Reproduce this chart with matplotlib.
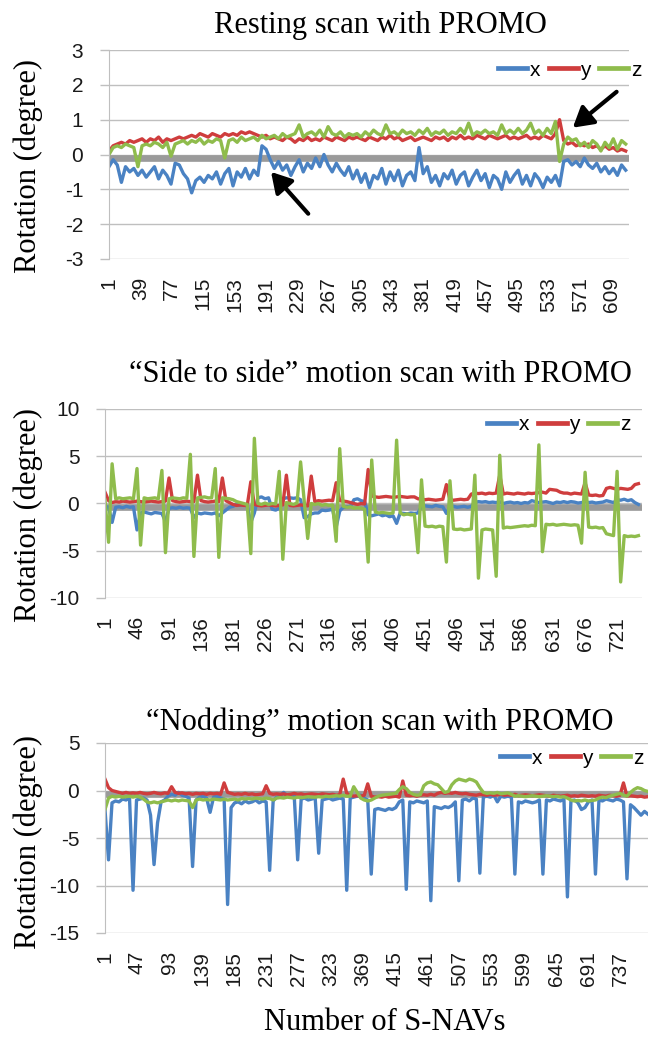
import numpy as np
import matplotlib
matplotlib.use("Agg")
import matplotlib.pyplot as plt
import matplotlib.transforms as mtransforms

plt.rcParams["font.family"] = "Liberation Sans"
plt.rcParams["axes.unicode_minus"] = False

W, H = 650, 1040
STEP = 5  # one value read every 5 S-NAVs
NAMES = ["x", "y", "z"]
COLORS = ["#4a82c3", "#cf3d3d", "#8fbc4c"]
GRID = "#bfbfbf"
ZERO = "#9a9a9a"

# --- resting scan ---
X1 = [
    -0.35, -0.15, -0.3, -0.8, -0.35, -0.5, -0.4, -0.6, -0.45, -0.65,
    -0.5, -0.35, -0.7, -0.45, -0.6, -0.85, -0.25, -0.3, -0.55, -0.7,
    -1.1, -0.75, -0.65, -0.8, -0.6, -0.7, -0.5, -0.85, -0.55, -0.4,
    -0.9, -0.5, -0.65, -0.4, -0.7, -0.45, -0.6, 0.25, 0.15, -0.15,
    -0.4, -0.2, -0.45, -0.3, -0.6, -0.35, -0.15, -0.5, -0.25, -0.4,
    -0.1, -0.35, 0.0, -0.3, -0.5, -0.25, -0.45, -0.6, -0.35, -0.7,
    -0.45, -0.8, -0.55, -0.95, -0.6, -0.7, -0.4, -0.85, -0.5, -0.75,
    -0.45, -0.9, -0.6, -0.5, -0.75, 0.2, -0.55, -0.35, -0.8, -0.6,
    -0.9, -0.55, -0.7, -0.45, -0.85, -0.6, -0.5, -0.9, -0.65, -0.45,
    -0.75, -0.55, -0.95, -0.6, -0.7, -1.0, -0.5, -0.8, -0.6, -0.45,
    -0.85, -0.6, -0.9, -0.55, -0.7, -0.95, -0.65, -0.8, -0.6, -0.9,
    -0.2, -0.15, -0.3, -0.2, -0.35, -0.1, -0.3, -0.4, -0.25, -0.5,
    -0.35, -0.55, -0.4, -0.6, -0.3, -0.45,
]
Y1 = [
    0.1, 0.25, 0.3, 0.35, 0.3, 0.4, 0.35, 0.4, 0.45, 0.35,
    0.45, 0.4, 0.5, 0.35, 0.45, 0.4, 0.45, 0.5, 0.45, 0.5,
    0.55, 0.5, 0.6, 0.55, 0.5, 0.6, 0.55, 0.5, 0.6, 0.55,
    0.6, 0.55, 0.65, 0.6, 0.65, 0.6, 0.55, 0.5, 0.55, 0.45,
    0.5, 0.45, 0.4, 0.5, 0.45, 0.35, 0.45, 0.4, 0.5, 0.4,
    0.45, 0.4, 0.5, 0.45, 0.4, 0.5, 0.45, 0.4, 0.5, 0.45,
    0.5, 0.45, 0.4, 0.5, 0.45, 0.4, 0.5, 0.45, 0.55, 0.45,
    0.5, 0.4, 0.45, 0.5, 0.4, 0.45, 0.5, 0.45, 0.4, 0.5,
    0.45, 0.5, 0.4, 0.5, 0.45, 0.55, 0.45, 0.5, 0.45, 0.55,
    0.5, 0.45, 0.55, 0.5, 0.45, 0.5, 0.55, 0.45, 0.5, 0.45,
    0.5, 0.55, 0.45, 0.5, 0.45, 0.55, 0.5, 0.45, 0.6, 1.0,
    0.4, 0.3, 0.35, 0.25, 0.3, 0.25, 0.3, 0.2, 0.25, 0.15,
    0.25, 0.15, 0.2, 0.1, 0.15, 0.1,
]
Z1 = [
    0.0, 0.2, 0.25, 0.2, 0.3, 0.25, 0.2, -0.35, 0.25, 0.3,
    0.25, 0.35, 0.3, 0.2, 0.35, -0.05, 0.3, 0.35, 0.4, 0.3,
    0.4, 0.35, 0.45, 0.3, 0.4, 0.35, 0.45, 0.4, -0.1, 0.4,
    0.45, 0.35, 0.5, 0.4, 0.45, 0.5, 0.4, 0.55, 0.45, 0.5,
    0.55, 0.45, 0.6, 0.5, 0.55, 0.6, 0.85, 0.5, 0.6, 0.65,
    0.55, 0.7, 0.5, 0.8, 0.6, 0.55, 0.65, 0.5, 0.6, 0.55,
    0.6, 0.5, 0.65, 0.55, 0.7, 0.6, 0.55, 0.85, 0.6, 0.65,
    0.55, 0.7, 0.6, 0.65, 0.55, 0.7, 0.6, 0.75, 0.55, 0.65,
    0.6, 0.7, 0.55, 0.65, 0.6, 0.75, 0.6, 0.9, 0.55, 0.65,
    0.6, 0.7, 0.6, 0.65, 0.55, 0.85, 0.6, 0.7, 0.6, 0.75,
    0.6, 0.7, 0.9, 0.6, 0.7, 0.55, 0.75, 0.6, 0.95, -0.2,
    0.3, 0.5, 0.4, 0.45, 0.25, 0.35, 0.2, 0.4, 0.3, 0.1,
    0.35, 0.2, 0.45, 0.15, 0.4, 0.3,
]

# --- side to side ---
X2 = [
    -0.3, -0.4, -2.0, -0.4, -0.35, -0.45, -0.3, -0.4, -0.35, -2.8,
    -1.0, -0.9, -1.0, -1.1, -0.95, -1.0, -1.05, -1.9, -0.5, -0.45,
    -0.5, -0.4, -0.5, -0.45, -0.5, -1.5, -1.0, -1.1, -1.0, -1.05,
    -1.1, -1.0, -1.3, -1.0, -0.7, -0.4, -0.3, -0.1, -0.2, -0.1,
    -0.3, -2.0, -1.0, 0.6, 0.7, 0.5, 0.6, -0.6, -0.7, -0.5,
    0.5, 0.6, 0.6, 0.55, 0.6, 0.4, -1.5, -1.4, -1.1, -1.0,
    -1.0, -0.7, -0.75, -0.7, -0.6, -2.5, -0.8, -0.4, -0.35, -0.3,
    0.4, 0.5, 0.3, 0.2, -1.2, -1.3, -1.2, -1.1, -1.3, -1.2,
    -1.4, -1.3, -2.1, -1.0, -1.05, -1.1, -1.0, -1.05, -1.0, -0.3,
    -0.25, -0.3, -0.35, -0.2, -0.3, -0.35, -1.05, -0.35, -0.3, -0.4,
    -0.35, -0.3, -0.4, -0.3, 0.1, 0.2, 0.15, 0.2, 0.1, 0.15,
    0.1, 0.2, 0.0, 0.1, 0.15, 0.05, 0.1, 0.0, 0.1, 0.05,
    0.3, 0.2, 0.1, 0.15, 0.2, 0.1, 0.0, 0.15, 0.1, 0.2,
    0.1, 0.2, 0.15, 0.05, 0.1, 0.2, 0.1, 0.15, 0.05, 0.1,
    0.15, 0.3, 0.2, 0.1, 0.4, 0.35, 0.45, 0.3, 0.4, 0.1,
    -0.1,
]
Y2 = [
    1.2, 0.3, 0.1, 0.2, 0.15, 0.25, 0.2, 0.15, 0.2, 0.25,
    0.2, 0.15, 0.2, 0.25, 0.2, 0.15, 0.2, 0.25, 2.7, 0.3,
    0.2, 0.15, 0.2, 0.25, 0.2, 0.2, 3.0, 0.3, 0.2, 0.15,
    0.2, 0.25, 0.2, 2.7, 0.3, 0.1, -0.1, -0.2, -0.15, -0.2,
    -0.2, 2.3, -0.1, -0.2, -0.25, -0.2, -0.15, -0.2, -0.25, -0.2,
    -0.15, 3.0, -0.2, -0.25, -0.2, -0.15, -0.2, -0.25, 2.9, 0.2,
    0.3, 0.25, 0.3, 0.35, 0.3, 2.2, 0.3, 0.25, 0.2, 0.1,
    0.0, -0.1, 0.0, -0.05, 3.6, 0.8, 0.7, 0.65, 0.7, 0.75,
    0.7, 0.65, 0.7, 0.75, 0.7, 0.65, 0.7, 0.7, 0.5, 0.45,
    0.4, 0.45, 0.4, 0.35, 0.4, 0.45, 2.0, 0.4, 0.35, 0.4,
    0.45, 0.4, 0.45, 1.0, 1.1, 1.05, 1.1, 1.0, 1.1, 1.05,
    1.1, 3.0, 1.0, 1.1, 1.05, 1.0, 1.1, 1.05, 1.0, 1.1,
    1.05, 1.1, 1.15, 1.2, 1.1, 1.5, 1.45, 1.4, 1.2, 1.1,
    1.1, 1.0, 1.1, 1.05, 1.0, 2.2, 0.9, 0.85, 0.9, 0.8,
    0.85, 1.6, 1.7, 1.6, 1.5, 1.6, 1.55, 1.5, 1.6, 2.0,
    2.1,
]
Z2 = [
    0.4, -4.1, 4.2, 0.5, 0.6, 0.5, 0.55, 0.6, 0.5, 3.7,
    -4.4, 0.6, 0.5, 0.55, 0.6, 0.5, 3.5, -5.2, 0.5, 0.6,
    0.55, 0.5, 0.6, 0.55, 5.2, -5.6, 0.6, 0.65, 0.7, 0.6,
    0.6, 3.7, -5.7, 0.6, 0.55, 0.5, 0.4, 0.2, 0.1, 0.0,
    -0.1, -5.3, 6.9, 0.0, -0.1, 0.05, -0.1, 0.0, -0.05, 3.4,
    -5.9, 0.1, 0.0, -0.1, 0.05, 4.4, 0.3, -3.7, 0.0, -0.1,
    0.0, -0.2, -0.1, -0.2, -0.15, -4.0, 5.8, -0.3, -0.4, -0.35,
    -0.5, -0.45, -0.5, -0.6, -6.2, 4.6, -0.9, -1.0, -0.95, -1.0,
    -1.05, -1.0, 6.7, -1.0, -1.2, -1.1, -1.2, -1.15, -5.2, 2.5,
    -2.4, -2.45, -2.4, -2.5, -2.4, -2.45, -6.2, 2.4, -2.7, -2.75,
    -2.7, -2.8, -2.75, -2.7, 3.0, -7.9, -2.8, -2.7, -2.75, -2.8,
    -7.7, 5.1, -2.6, -2.5, -2.55, -2.5, -2.45, -2.4, -2.35, -2.4,
    -2.3, -2.35, 6.2, -5.1, -2.2, -2.25, -2.2, -2.3, -2.25, -2.2,
    -2.25, -2.3, -2.25, -2.3, -4.2, 3.3, -2.5, -2.55, -2.5, -2.6,
    -2.55, -3.2, -3.3, -3.4, 3.4, -8.3, -3.4, -3.5, -3.45, -3.5,
    -3.4,
]

# --- nodding ---
X3 = [
    -2.0, -7.3, -1.3, -1.1, -1.2, -0.9, -1.0, -0.8, -10.5, -1.0,
    -0.9, -0.8, -1.0, -2.6, -7.8, -3.4, -1.2, -1.0, -0.6, -0.4,
    -0.5, -0.2, -0.5, -0.6, -0.8, -8.0, -1.0, -0.7, -0.6, -0.8,
    -2.3, -0.7, -0.6, -0.8, -0.9, -12.0, -1.8, -1.3, -1.2, -1.4,
    -1.1, -1.3, -1.2, -1.0, -1.3, -1.1, -1.2, -8.4, -1.1, -0.7,
    -0.6, -0.2, -0.6, -0.7, -0.5, -7.3, -0.9, -0.8, -1.0, -0.9,
    -0.8, -6.6, -1.0, -0.9, -0.8, -1.0, -0.9, -0.8, -0.9, -10.5,
    -0.8, -0.7, -0.6, -0.5, -0.8, -1.0, -8.8, -2.0, -1.9, -2.0,
    -2.1, -1.9, -2.0, -1.8, -1.2, -1.0, -10.4, -1.2, -1.3, -1.1,
    -1.2, -1.3, -1.1, -11.6, -1.7, -1.8, -1.9, -1.7, -1.8, -1.6,
    -1.2, -9.5, -1.0, -0.9, -1.1, -0.8, -0.9, -8.7, -0.7, -0.6,
    -0.7, -0.5, -1.2, -0.6, -0.7, -0.6, -0.7, -8.8, -1.2, -1.3,
    -1.1, -1.2, -1.3, -1.2, -1.0, -8.8, -1.0, -1.1, -0.9, -1.0,
    -1.1, -0.9, -11.2, -1.1, -1.0, -1.3, -2.0, -1.8, -1.2, -1.0,
    -8.8, -1.0, -1.1, -0.9, -1.0, -1.1, -0.9, -1.0, -1.2, -9.3,
    -1.5, -1.8, -2.2, -2.6, -2.2, -2.5,
]
Y3 = [
    1.2, 0.3, 0.0, -0.1, -0.2, -0.3, -0.2, -0.3, -0.25, -0.3,
    -0.2, -0.3, -0.35, -0.3, -0.2, -0.3, -0.35, -0.25, -0.3, 0.4,
    -0.2, -0.3, -0.25, -0.35, -0.3, -0.4, -0.3, -0.35, -0.3, -0.4,
    -0.3, -0.35, -0.3, -0.4, 0.8, -0.2, -0.3, -0.4, -0.35, -0.4,
    -0.3, -0.4, -0.35, -0.45, -0.4, -0.35, 0.5, -0.3, -0.4, -0.35,
    -0.4, -0.35, -0.45, -0.4, -0.3, -0.4, -0.35, -0.45, -0.4, -0.35,
    -0.4, -0.45, -0.35, -0.4, -0.45, -0.4, -0.5, -0.45, 1.2, -0.3,
    -0.5, -0.6, -0.55, -0.6, -0.5, 0.7, -0.6, -0.7, -0.65, -0.7,
    -0.6, -0.7, -0.65, -0.6, -0.7, 1.0, -0.5, -0.55, -0.5, -0.6,
    -0.5, -0.45, -0.5, -0.4, -0.5, -0.3, -0.2, -0.3, -0.25, -0.3,
    -0.2, -0.3, -0.35, -0.3, -0.4, -0.45, -0.5, -0.4, -0.45, -0.5,
    -0.4, -0.5, -0.45, -0.4, -0.5, -0.45, -0.5, -0.4, -0.55, -0.5,
    -0.45, -0.5, -0.55, -0.5, -0.45, -0.5, -0.55, -0.6, -0.5, -0.55,
    -0.6, -0.55, -0.5, -0.6, -0.55, -0.6, -0.5, -0.55, -0.6, -0.55,
    -0.6, -0.5, -0.55, -0.6, -0.5, -0.55, -0.6, -0.5, 0.8, -0.6,
    -0.55, -0.6, -0.65, -0.6, -0.7, -0.65,
]
Z3 = [
    -2.0, -0.8, -0.6, -0.7, -0.6, -0.7, -0.65, -0.6, -0.7, -0.6,
    -0.7, -0.9, -1.2, -1.3, -1.2, -1.3, -1.2, -1.1, -1.0, -1.1,
    -1.0, -1.1, -1.0, -1.05, -1.1, -1.8, -1.0, -0.9, -1.0, -0.95,
    -1.0, -0.9, -0.95, -1.0, -0.9, -1.0, -0.95, -0.9, -1.0, -0.85,
    -0.9, -0.85, -0.9, -0.8, -0.85, -0.9, -0.8, -0.85, -1.0, -0.8,
    -0.75, -0.8, -0.7, -0.75, -0.8, -0.7, -0.75, -0.7, -0.65, -0.7,
    -0.7, -0.65, -0.7, -0.6, -0.65, -0.6, -0.55, -0.6, -0.5, -0.6,
    -0.6, 0.4, -0.2, -0.8, -1.0, -1.1, -1.0, -0.8, -0.6, -0.5,
    -0.45, -0.4, -0.35, -0.3, 0.1, 0.4, 0.2, -0.2, -0.4, -0.5,
    -0.45, 0.5, 0.8, 0.9, 0.7, 0.6, 0.2, -0.2, -0.1, 0.6,
    1.0, 1.2, 1.1, 1.0, 1.2, 1.1, 0.9, 0.3, -0.2, -0.3,
    -0.25, -0.3, -0.2, -0.35, -0.3, -0.25, -0.4, -0.6, -0.55, -0.6,
    -0.65, -0.6, -0.55, -0.6, -0.65, -0.6, -0.55, -0.6, -0.65, -0.6,
    -0.7, -0.65, -0.8, -1.0, -1.1, -1.05, -1.1, -1.0, -1.1, -1.05,
    -1.0, -0.8, -0.7, -0.75, -0.6, -0.5, -0.4, -0.3, -0.5, -0.6,
    -0.2, 0.1, 0.3, 0.2, 0.0, -0.1,
]

TITLES = ["Resting scan with PROMO",
          "\u201cSide to side\u201d motion scan with PROMO",
          "\u201cNodding\u201d motion scan with PROMO"]
N_NAVS = [630, 756, 776]
LABEL_STEP = [38, 45, 46]
YLIMS = [(-3, 3), (-10, 10), (-15, 5)]
YSTEP = [1, 5, 5]
# arrows in the resting scan: (head, tail) in (S-NAV, degree)
ARROWS = [((197, -0.5), (242, -1.7)), ((562, 0.77), (615, 1.8))]

fig = plt.figure(figsize=(W / 100, H / 100), dpi=100)


def add_panel(box, series, n, label_step, ylim, ystep, legend_at):
    left, top, right, bottom = box
    ax = fig.add_axes([left / W, 1 - bottom / H, (right - left) / W, (bottom - top) / H])
    ax.set_axisbelow(True)
    ax.set_xlim(1, n)
    ax.set_ylim(*ylim)
    ax.set_yticks(np.arange(ylim[0], ylim[1] + ystep, ystep))
    ax.set_xticks(np.arange(1, n + 1, label_step))
    ax.grid(axis="y", color=GRID, lw=1.0)
    for s in ["top", "right", "bottom"]:
        ax.spines[s].set_visible(False)
    ax.spines["left"].set_color(GRID)
    ax.tick_params(axis="y", length=6.5, color=GRID, width=1.0, pad=12,
                   labelsize=15, labelcolor="#1a1a1a")
    ax.tick_params(axis="x", length=0, pad=13, labelsize=15,
                   labelrotation=90, labelcolor="#1a1a1a")

    # thick grey horizontal axis at zero, sitting just under the 0 gridline
    off = mtransforms.ScaledTranslation(0, -2.5 / 72, fig.dpi_scale_trans)
    ax.plot([0, 1], [0, 0], transform=ax.get_yaxis_transform() + off,
            color=ZERO, lw=4.8, solid_capstyle="butt", zorder=1.5)

    for vals, color, name in zip(series, COLORS, NAMES):
        frames = 1 + STEP * np.arange(len(vals))
        ax.plot(frames, vals, color=color, lw=2.4, label=name, zorder=2,
                solid_joinstyle="round")

    leg = ax.legend(loc="center left", bbox_to_anchor=(legend_at[0] / W, 1 - legend_at[1] / H),
                    bbox_transform=fig.transFigure, ncol=3, frameon=False,
                    prop={"family": "Liberation Sans", "size": 15},
                    handlelength=1.4, handletextpad=0.12, columnspacing=0.4,
                    borderpad=0, borderaxespad=0)
    for line in leg.get_lines():
        line.set_linewidth(3.4)
    return ax


boxes = [(109, 50, 629, 259), (105, 409, 642, 598), (105, 743, 648, 933)]
legends = [(498, 70), (487, 425), (500, 758)]
title_base = [33, 382, 730]
ylabel_mid = [166, 515, 842]
data = [(X1, Y1, Z1), (X2, Y2, Z2), (X3, Y3, Z3)]

axes = []
for k in range(3):
    ax = add_panel(boxes[k], data[k], N_NAVS[k], LABEL_STEP[k], YLIMS[k], YSTEP[k], legends[k])
    axes.append(ax)
    fig.text(380 / W, 1 - title_base[k] / H, TITLES[k], ha="center", va="baseline",
             family="Liberation Serif", size=22)
    fig.text(28 / W, 1 - ylabel_mid[k] / H, "Rotation (degree)", rotation=90,
             ha="center", va="center", family="Liberation Serif", size=22)

for head, tail in ARROWS:
    axes[0].annotate("", xy=head, xytext=tail,
                     arrowprops=dict(arrowstyle="-|>,head_length=0.6,head_width=0.35",
                                     color="black", lw=3.0, shrinkA=0, shrinkB=0,
                                     mutation_scale=20),
                     annotation_clip=False)

fig.text(385 / W, 1 - 1030 / H, "Number of S-NAVs", ha="center", va="baseline",
         family="Liberation Serif", size=22)

fig.savefig("out.png", dpi=100)
